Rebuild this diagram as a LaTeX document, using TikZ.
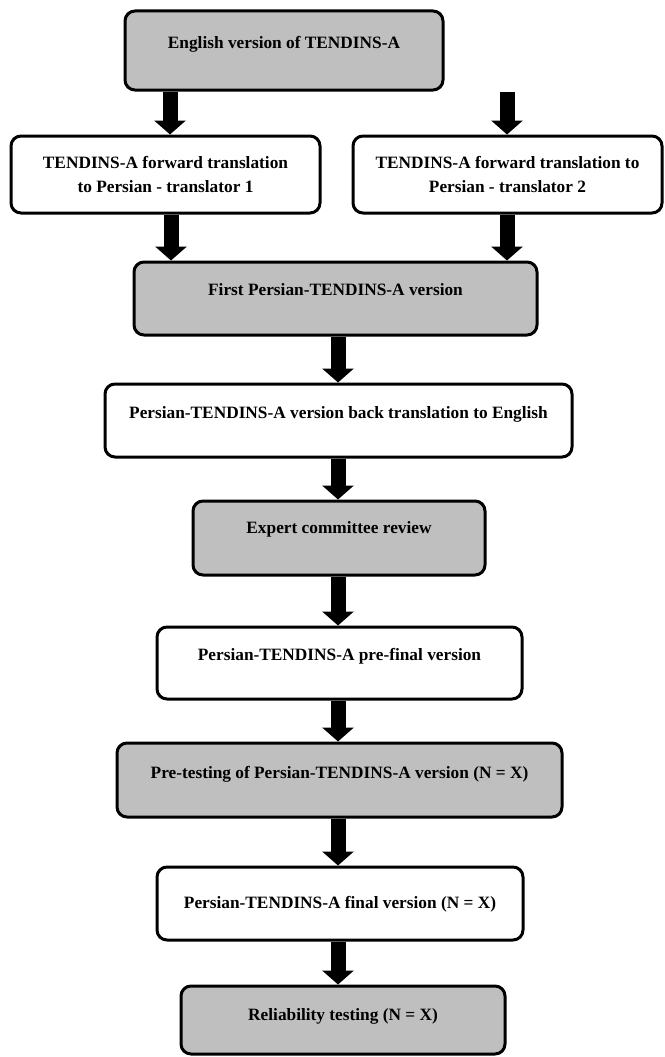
\documentclass[tikz,border=0pt]{standalone}
\usepackage{fontspec}
\setmainfont{Liberation Serif}
\usetikzlibrary{arrows.meta}
\definecolor{boxgrey}{RGB}{191,191,191}
\tikzset{
  box/.style={draw=black, line width=3pt, rounded corners=10pt, inner xsep=0pt, inner ysep=0pt,
    font=\fontsize{17.3}{24}\selectfont\bfseries, align=center},
  greybox/.style={box, fill=boxgrey},
  whitebox/.style={box, fill=white},
  blockarrow/.style={line width=15pt, -{Triangle[width=31pt,length=14pt]}},
}
\begin{document}
\begin{tikzpicture}[x=1pt, y=-1pt]
\useasboundingbox (0,0) rectangle (664,1057);
% boxes
\node[greybox, minimum width=318, text height=37.7, text depth=41.3] (b1) at (284,50.5) {English version of TENDINS-A};
\node[whitebox, minimum width=309, minimum height=77] (b2) at (165.5,174.5) {TENDINS-A forward translation\\to Persian - translator 1};
\node[whitebox, minimum width=309, minimum height=77] (b3) at (507.5,174.5) {TENDINS-A forward translation to\\Persian - translator 2};
\node[greybox, minimum width=403, text height=33.7, text depth=39.3] (b4) at (335.5,298.5) {First Persian-TENDINS-A version};
\node[whitebox, minimum width=467, text height=34.7, text depth=38.3] (b5) at (338.5,420.5) {Persian-TENDINS-A version back translation to English};
\node[greybox, minimum width=292, text height=32.7, text depth=41.3] (b6) at (339,538) {Expert committee review};
\node[whitebox, minimum width=365, text height=33.7, text depth=38.3] (b7) at (339.5,663) {Persian-TENDINS-A pre-final version};
\node[greybox, minimum width=445, text height=35.7, text depth=38.3] (b8) at (339.5,780) {Pre-testing of Persian-TENDINS-A version (N = X)};
\node[whitebox, minimum width=366, text height=41.7, text depth=31.3] (b9) at (340,903.5) {Persian-TENDINS-A final version (N = X)};
\node[greybox, minimum width=324, text height=34.7, text depth=33.3] (b10) at (343,1020) {Reliability testing (N = X)};
% arrows
\draw[blockarrow] (170,0 |- b1.south) -- (170,0 |- b2.north);
\draw[blockarrow] (507,0 |- b1.south) -- (507,0 |- b3.north);
\draw[blockarrow] (171,0 |- b2.south) -- (171,0 |- b4.north);
\draw[blockarrow] (507,0 |- b3.south) -- (507,0 |- b4.north);
\draw[blockarrow] (338,0 |- b4.south) -- (338,0 |- b5.north);
\draw[blockarrow] (338,0 |- b5.south) -- (338,0 |- b6.north);
\draw[blockarrow] (338,0 |- b6.south) -- (338,0 |- b7.north);
\draw[blockarrow] (338,0 |- b7.south) -- (338,0 |- b8.north);
\draw[blockarrow] (338,0 |- b8.south) -- (338,0 |- b9.north);
\draw[blockarrow] (338,0 |- b9.south) -- (338,0 |- b10.north);
\end{tikzpicture}
\end{document}
